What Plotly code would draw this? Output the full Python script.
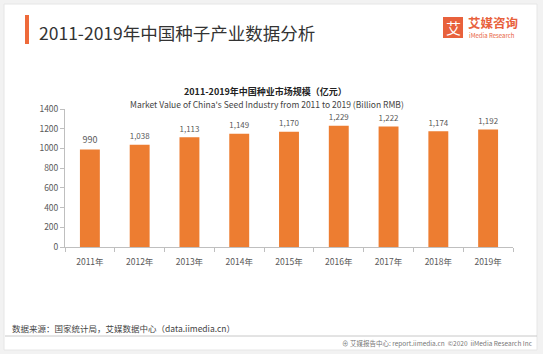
import plotly.graph_objects as go

years = ["2011年", "2012年", "2013年", "2014年", "2015年", "2016年", "2017年", "2018年", "2019年"]
values = [990, 1038, 1113, 1149, 1170, 1229, 1222, 1174, 1192]
y_ticks = [0, 200, 400, 600, 800, 1000, 1200, 1400]

W, H = 543, 354
L, R, T, B = 65, 513, 109, 247  # plot area in pixels

def px(x):
    return (x - L) / (R - L)

def py(y):
    return (B - y) / (B - T)

FONT = "Noto Sans CJK SC"
ORANGE = "#ED7D31"
GRAY = "#595959"

fig = go.Figure()
fig.add_trace(go.Bar(
    x=years, y=values,
    marker=dict(color=ORANGE, line=dict(width=0)),
    texttemplate="%{y:,}", textposition="outside",
    textfont=dict(size=9, color=GRAY, family=FONT),
    cliponaxis=False,
    width=0.4,
))

shapes = [
    dict(type="rect", xref="paper", yref="paper", x0=px(0), x1=px(W), y0=py(0), y1=py(H),
         fillcolor="#f2f2f2", line=dict(width=0), layer="below"),
    dict(type="rect", xref="paper", yref="paper", x0=px(4), x1=px(537), y0=py(4), y1=py(350),
         fillcolor="white", line=dict(width=1, color="#e6e6e6"), layer="below"),
    dict(type="rect", xref="paper", yref="paper", x0=px(25), x1=px(29), y0=py(15), y1=py(44),
         fillcolor="#EE6A3A", line=dict(width=0)),
    dict(type="rect", xref="paper", yref="paper", x0=px(443), x1=px(463), y0=py(17), y1=py(38),
         fillcolor="#E8613C", line=dict(width=0)),
    dict(type="line", xref="paper", yref="paper", x0=px(5), x1=px(537), y0=py(336), y1=py(336),
         line=dict(width=1, color="#c8c8c8")),
]

annotations = [
    dict(text="2011-2019年中国种子产业数据分析", x=px(37), y=py(32), xanchor="left", yanchor="middle",
         font=dict(size=17.5, color="#333333", family=FONT)),
    dict(text="艾", x=px(453), y=py(27.5), xanchor="center", yanchor="middle",
         font=dict(size=15, color="white", family=FONT)),
    dict(text="<b>艾媒咨询</b>", x=px(466), y=py(23), xanchor="left", yanchor="middle",
         font=dict(size=12.5, color="#E8613C", family=FONT)),
    dict(text="iMedia Research", x=px(467), y=py(35), xanchor="left", yanchor="middle",
         font=dict(size=6, color="#E8613C", family=FONT)),
    dict(text="<b>2011-2019年中国种业市场规模（亿元）</b>", x=px(265), y=py(92), xanchor="center", yanchor="middle",
         font=dict(size=9, color="#222222", family=FONT)),
    dict(text="Market Value of China's Seed Industry from 2011 to 2019 (Billion RMB)", x=px(267), y=py(104),
         xanchor="center", yanchor="middle", font=dict(size=8.5, color="#444444", family=FONT)),
    dict(text="数据来源：国家统计局，艾媒数据中心（data.iimedia.cn）", x=px(10), y=py(328), xanchor="left",
         yanchor="middle", font=dict(size=8.5, color="#444444", family=FONT)),
    dict(text="⊕ 艾媒报告中心: report.iimedia.cn  ©2020  iiMedia Research Inc", x=px(535), y=py(343),
         xanchor="right", yanchor="middle", font=dict(size=6.5, color="#777777", family=FONT)),
]
for a in annotations:
    a.update(xref="paper", yref="paper", showarrow=False)

fig.update_layout(
    width=W, height=H,
    margin=dict(l=L, r=W - R, t=T, b=H - B, pad=0),
    paper_bgcolor="white", plot_bgcolor="white",
    showlegend=False, bargap=0.6,
    shapes=shapes, annotations=annotations,
    font=dict(family=FONT, color=GRAY),
    xaxis=dict(showline=True, linecolor="#bfbfbf", linewidth=1, ticks="outside", tickson="boundaries",
               ticklen=4, tickcolor="#bfbfbf", tickfont=dict(size=8.5, color=GRAY, family=FONT),
               ticklabelstandoff=7, showgrid=False, fixedrange=True),
    yaxis=dict(range=[0, 1400], tickvals=y_ticks, showline=True, linecolor="#bfbfbf", linewidth=1,
               ticks="outside", ticklen=4, tickcolor="#bfbfbf", showgrid=False, zeroline=False,
               tickfont=dict(size=8.5, color=GRAY, family=FONT), fixedrange=True),
)

fig.write_html("out.html", config={"displayModeBar": False})
